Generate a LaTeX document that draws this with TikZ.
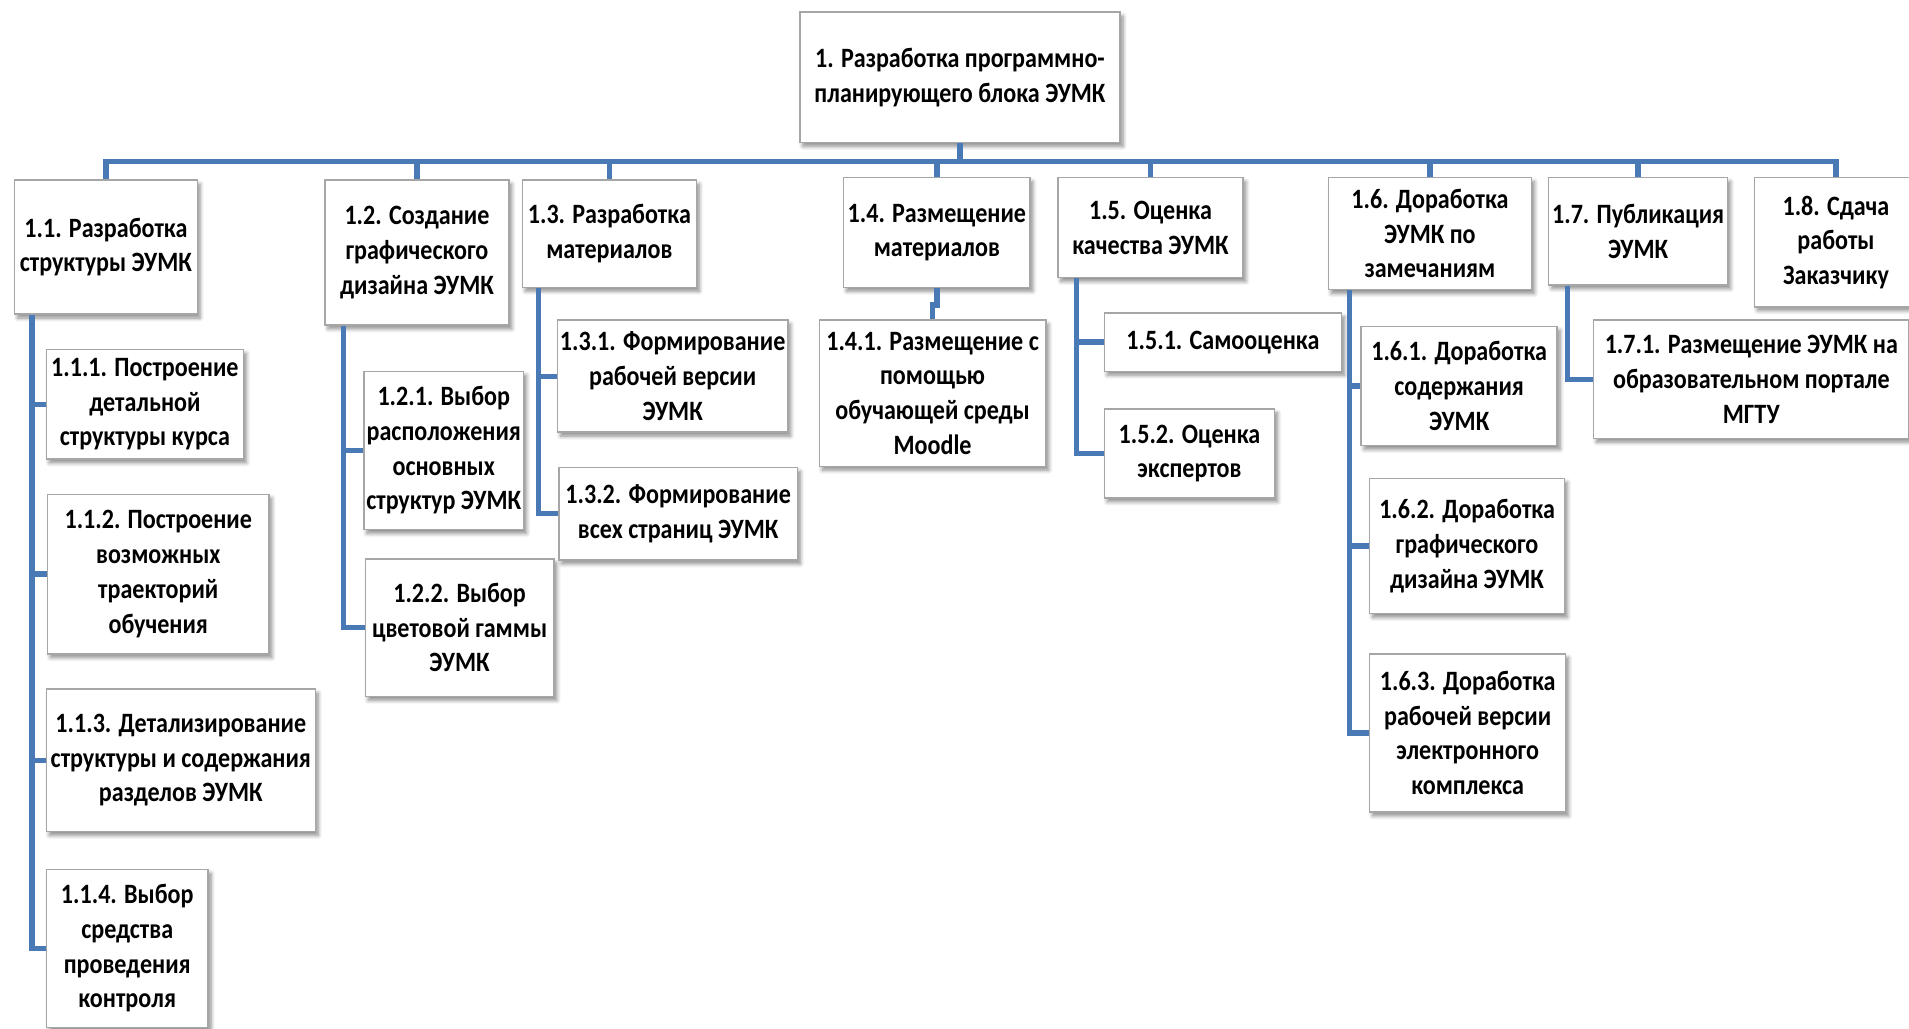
\documentclass[tikz,border=0pt]{standalone}
\usepackage{fontspec}
\setmainfont{Carlito}[FakeStretch=0.86]
\usetikzlibrary{shadows,shadows.blur}
\definecolor{lineblue}{HTML}{4A7AB6}
\begin{document}
\begin{tikzpicture}[x=0.5pt,y=-0.5pt,
  box/.style={draw=black!35, line width=0.6pt, fill=white, align=center, inner sep=1pt,
    font=\bfseries\fontsize{11.5}{14.25}\selectfont,
    blur shadow={shadow xshift=1.2pt, shadow yshift=-1.6pt, shadow blur steps=6, shadow blur radius=1.6pt, shadow opacity=45}},
  link/.style={draw=lineblue, line width=2.2pt}]
\useasboundingbox (0,0) rectangle (1568,845);
\clip (0,0) rectangle (1568,845);
% root
\node[box, minimum width=131.5pt, minimum height=53.5pt] (root) at (788.5,63.5) {1. Разработка программно-\\планирующего блока ЭУМК};
% level 1
\node[box, minimum width=75pt, minimum height=55pt] (b11) at (87,203) {1.1. Разработка\\структуры ЭУМК};
\node[box, minimum width=75.5pt, minimum height=59.5pt] (b12) at (342.5,207.5) {1.2. Создание\\графического\\дизайна ЭУМК};
\node[box, minimum width=71.5pt, minimum height=44pt] (b13) at (500.5,192) {1.3. Разработка\\материалов};
\node[box, minimum width=76.5pt, minimum height=45pt] (b14) at (769.5,191) {1.4. Размещение\\материалов};
\node[box, minimum width=76pt, minimum height=41pt] (b15) at (945,187) {1.5. Оценка\\качества ЭУМК};
\node[box, minimum width=83.5pt, minimum height=46pt] (b16) at (1174.5,192) {1.6. Доработка\\ЭУМК по\\замечаниям};
\node[box, minimum width=73.5pt, minimum height=44pt] (b17) at (1345.5,190) {1.7. Публикация\\ЭУМК};
\node[box, minimum width=67pt, minimum height=53pt] (b18) at (1508,199) {1.8. Сдача\\работы\\Заказчику};
% level 2 under 1.1
\node[box, minimum width=81pt, minimum height=45pt] (b111) at (119,332) {1.1.1. Построение\\детальной\\структуры курса};
\node[box, minimum width=91pt, minimum height=65.5pt] (b112) at (130,471.5) {1.1.2. Построение\\возможных\\траекторий\\обучения};
\node[box, minimum width=110.5pt, minimum height=58.5pt] (b113) at (148.5,624.5) {1.1.3. Детализирование\\структуры и содержания\\разделов ЭУМК};
\node[box, minimum width=66.5pt, minimum height=65pt] (b114) at (104.5,779) {1.1.4. Выбор\\средства\\проведения\\контроля};
% under 1.2
\node[box, minimum width=64.5pt, minimum height=65pt] (b121) at (364.5,370) {1.2.1. Выбор\\расположения\\основных\\структур ЭУМК};
\node[box, minimum width=77.5pt, minimum height=56.5pt] (b122) at (377.5,515.5) {1.2.2. Выбор\\цветовой гаммы\\ЭУМК};
% under 1.3
\node[box, minimum width=93.5pt, minimum height=46pt] (b131) at (552.5,309) {1.3.1. Формирование\\рабочей версии\\ЭУМК};
\node[box, minimum width=98pt, minimum height=38pt] (b132) at (557,422) {1.3.2. Формирование\\всех страниц ЭУМК};
% under 1.4
\node[box, minimum width=93pt, minimum height=60pt] (b141) at (766,323) {1.4.1. Размещение с\\помощью\\обучающей среды\\Moodle};
% under 1.5
\node[box, minimum width=97.5pt, minimum height=24pt] (b151) at (1004.5,281) {1.5.1. Самооценка};
\node[box, minimum width=70pt, minimum height=36.5pt] (b152) at (977,372.5) {1.5.2. Оценка\\экспертов};
% under 1.6
\node[box, minimum width=80.5pt, minimum height=49pt] (b161) at (1198.5,317) {1.6.1. Доработка\\содержания\\ЭУМК};
\node[box, minimum width=80pt, minimum height=55.5pt] (b162) at (1205,448.5) {1.6.2. Доработка\\графического\\дизайна ЭУМК};
\node[box, minimum width=80.5pt, minimum height=65pt] (b163) at (1205.5,602) {1.6.3. Доработка\\рабочей версии\\электронного\\комплекса};
% under 1.7
\node[box, minimum width=129.5pt, minimum height=48.5pt] (b171) at (1438.5,311.5) {1.7.1. Размещение ЭУМК на\\образовательном портале\\МГТУ};
% connectors level 1
\foreach \c in {b11,b12,b13,b14,b15,b16,b17,b18}
  \draw[link] (root.south) -- ++(0,15) -| (\c.north);
% connectors level 2
\draw[link] ([xshift=7.5pt]b11.south west) |- (b111.west);
\draw[link] ([xshift=7.5pt]b11.south west) |- (b112.west);
\draw[link] ([xshift=7.5pt]b11.south west) |- (b113.west);
\draw[link] ([xshift=7.5pt]b11.south west) |- (b114.west);
\draw[link] ([xshift=8pt]b12.south west) |- (b121.west);
\draw[link] ([xshift=8pt]b12.south west) |- (b122.west);
\draw[link] ([xshift=7pt]b13.south west) |- (b131.west);
\draw[link] ([xshift=7pt]b13.south west) |- (b132.west);
\draw[link] (b14.south) -- ++(0,14) -| (b141.north);
\draw[link] ([xshift=8pt]b15.south west) |- (b151.west);
\draw[link] ([xshift=8pt]b15.south west) |- (b152.west);
\draw[link] ([xshift=9pt]b16.south west) |- (b161.west);
\draw[link] ([xshift=9pt]b16.south west) |- (b162.west);
\draw[link] ([xshift=9pt]b16.south west) |- (b163.west);
\draw[link] ([xshift=8pt]b17.south west) |- (b171.west);
\end{tikzpicture}
\end{document}
